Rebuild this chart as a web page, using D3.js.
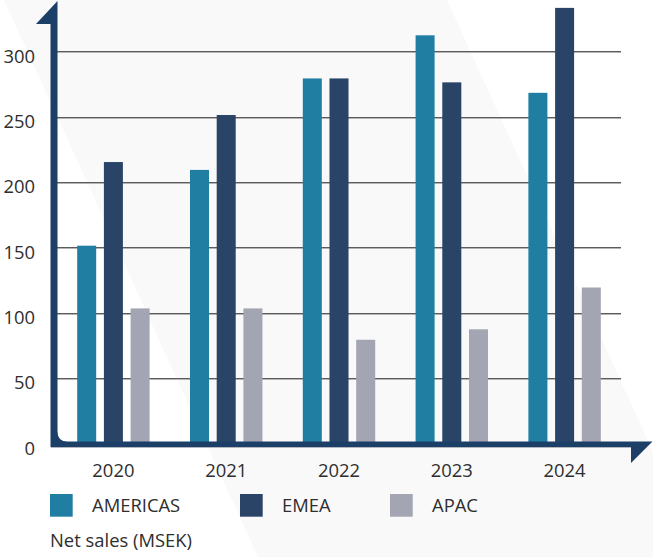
<!DOCTYPE html>
<html>
<head>
<meta charset="utf-8">
<script src="https://cdn.jsdelivr.net/npm/d3@7"></script>
<style>
	body { margin: 0; background: #fff; }
	svg { display: block; font-family: 'Open Sans', sans-serif; }
</style>
</head>
<body>
<svg width="653" height="557"></svg>
<script>
let years = ['2020', '2021', '2022', '2023', '2024'];
let regions = ['AMERICAS', 'EMEA', 'APAC'];
let americas = [152, 210, 280, 313, 269];
let emea = [216, 252, 280, 277, 334];
let apac = [104, 104, 80, 88, 120];
let yTicks = [0, 50, 100, 150, 200, 250, 300];

let colors = {AMERICAS: '#217ea3', EMEA: '#2a4468', APAC: '#a3a5b3'};
let axisColor = '#1b3f66';
let textColor = '#2e2e2e';
let fontSize = 18.4;

let svg = d3.select('svg');

let x = d3.scaleBand().domain(years).range([57, 621]);
let xInner = d3.scaleBand().domain(regions).range([0, x.bandwidth()])
	.paddingInner(0.288).paddingOuter(0.756);
let y = d3.scaleLinear().domain([0, 300]).range([444.3, 52.3]);

// faint diagonal band in the background
svg.append('path')
	.attr('d', 'M4,0 L447,0 L701,557 L258,557 Z')
	.attr('fill', '#f9f9f9');

// grid lines
let grid = svg.append('g');
grid.selectAll('line.dark')
	.data(yTicks.filter(d => d > 0))
	.join('line')
	.attr('class', 'dark')
	.attr('x1', 57).attr('x2', 621)
	.attr('y1', d => Math.round(y(d)) - 0.5)
	.attr('y2', d => Math.round(y(d)) - 0.5)
	.attr('stroke', '#5c5c5c');
grid.selectAll('line.light')
	.data(yTicks.filter(d => d > 0))
	.join('line')
	.attr('class', 'light')
	.attr('x1', 57).attr('x2', 621)
	.attr('y1', d => Math.round(y(d)) + 0.5)
	.attr('y2', d => Math.round(y(d)) + 0.5)
	.attr('stroke', '#b4b4b4');

// bars
let rows = years.map((yr, i) => ({year: yr, AMERICAS: americas[i], EMEA: emea[i], APAC: apac[i]}));

svg.append('g')
	.selectAll('g')
	.data(rows)
	.join('g')
	.attr('transform', d => `translate(${x(d.year)},0)`)
	.selectAll('rect')
	.data(d => regions.map(r => ({region: r, value: d[r]})))
	.join('rect')
	.attr('x', d => xInner(d.region))
	.attr('width', xInner.bandwidth())
	.attr('y', d => y(d.value))
	.attr('height', d => y(0) - y(d.value))
	.attr('fill', d => colors[d.region]);

// axes drawn as one shape with arrow heads
svg.append('line')
	.attr('x1', 51).attr('x2', 631)
	.attr('y1', 447.5).attr('y2', 447.5)
	.attr('stroke', '#b3b8c0');
svg.append('path')
	.attr('d', 'M57.5,1 L36,24 L50.5,24 L50.5,447 L631,447 L631,463 L652.5,441.5 L67.5,441.5 Q57.5,441.5 57.5,431.5 Z')
	.attr('fill', axisColor);

// y tick labels
svg.append('g')
	.selectAll('text')
	.data(yTicks)
	.join('text')
	.attr('x', 35)
	.attr('y', d => y(d) + 10.5)
	.attr('text-anchor', 'end')
	.attr('font-size', fontSize)
	.attr('fill', textColor)
	.text(d => d);

// x labels
svg.append('g')
	.selectAll('text')
	.data(years)
	.join('text')
	.attr('x', d => x(d) + x.bandwidth() / 2)
	.attr('y', 477)
	.attr('text-anchor', 'middle')
	.attr('font-size', fontSize)
	.attr('fill', textColor)
	.text(d => d);

// legend
let legendX = [50, 240, 390];
let legend = svg.append('g')
	.selectAll('g')
	.data(regions)
	.join('g')
	.attr('transform', (d, i) => `translate(${legendX[i]},494)`);

legend.append('rect')
	.attr('width', 22.7)
	.attr('height', 22.7)
	.attr('fill', d => colors[d]);

legend.append('text')
	.attr('x', 42)
	.attr('y', 18)
	.attr('font-size', fontSize)
	.attr('fill', textColor)
	.text(d => d);

svg.append('text')
	.attr('x', 50)
	.attr('y', 546.5)
	.attr('font-size', fontSize)
	.attr('fill', textColor)
	.text('Net sales (MSEK)');
</script>
</body>
</html>
